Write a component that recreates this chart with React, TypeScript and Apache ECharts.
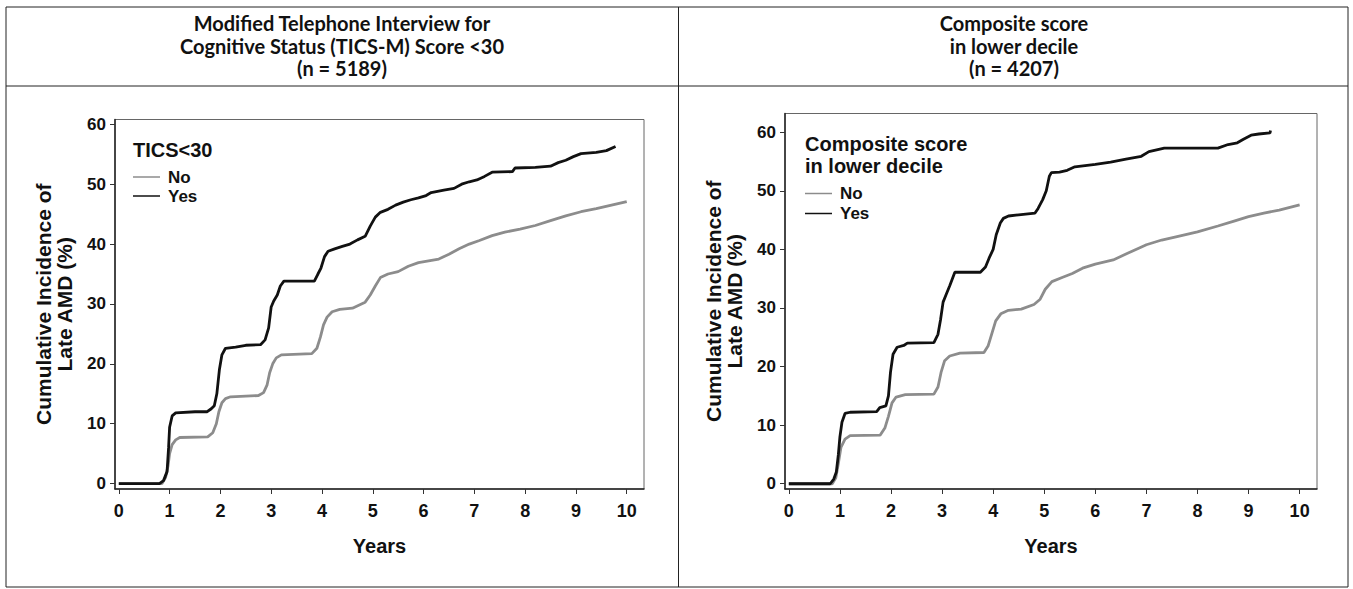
import React, { useEffect, useRef } from "react";
import * as echarts from "echarts";

// ---- data (years, cumulative incidence %) ----
const leftNoData: [number, number][] = [
  [0, 0], [0.85, 0], [0.92, 1], [0.97, 3], [1.0, 5], [1.05, 6.5], [1.12, 7.3], [1.2, 7.7], [1.75, 7.8],
  [1.85, 8.5], [1.92, 10], [1.97, 12], [2.03, 13.5], [2.1, 14.2], [2.2, 14.5], [2.75, 14.7], [2.85, 15.2],
  [2.92, 16.5], [2.97, 18.5], [3.03, 20], [3.1, 21], [3.2, 21.5], [3.8, 21.7], [3.9, 22.6], [3.97, 24.5],
  [4.03, 26.5], [4.1, 27.8], [4.2, 28.7], [4.35, 29.1], [4.6, 29.3], [4.85, 30.3], [4.95, 31.5], [5.05, 33],
  [5.15, 34.4], [5.3, 35], [5.5, 35.4], [5.7, 36.3], [5.9, 36.9], [6.1, 37.2], [6.3, 37.5], [6.5, 38.3],
  [6.7, 39.2], [6.9, 40], [7.1, 40.6], [7.35, 41.4], [7.6, 42], [7.9, 42.5], [8.2, 43.1], [8.5, 43.9],
  [8.8, 44.7], [9.1, 45.4], [9.4, 45.9], [9.7, 46.5], [10, 47.1],
];
const leftYesData: [number, number][] = [
  [0, 0], [0.8, 0], [0.88, 0.5], [0.95, 2], [0.98, 6], [1.0, 9.4], [1.05, 11.3], [1.12, 11.8], [1.5, 12],
  [1.74, 12], [1.82, 12.5], [1.88, 13], [1.93, 15], [1.98, 19], [2.03, 21.5], [2.1, 22.6], [2.3, 22.8],
  [2.5, 23.1], [2.79, 23.2], [2.88, 24], [2.95, 26], [3.0, 29.5], [3.05, 30.5], [3.12, 31.5], [3.18, 33],
  [3.25, 33.8], [3.85, 33.8], [3.92, 35], [3.98, 36], [4.05, 37.9], [4.12, 38.8], [4.25, 39.2], [4.4, 39.6],
  [4.55, 40], [4.7, 40.7], [4.85, 41.3], [4.95, 43], [5.05, 44.5], [5.15, 45.3], [5.3, 45.8], [5.45, 46.5],
  [5.6, 47], [5.75, 47.4], [5.9, 47.7], [6.05, 48.1], [6.15, 48.6], [6.4, 49], [6.6, 49.3], [6.75, 50],
  [6.9, 50.4], [7.05, 50.7], [7.2, 51.3], [7.35, 52], [7.75, 52.1], [7.8, 52.7], [8.2, 52.8], [8.5, 53],
  [8.65, 53.6], [8.8, 54], [8.95, 54.6], [9.1, 55.1], [9.4, 55.3], [9.6, 55.6], [9.78, 56.3],
];
const rightNoData: [number, number][] = [
  [0, 0], [0.85, 0], [0.92, 1], [0.97, 3.5], [1.02, 6.2], [1.1, 7.6], [1.2, 8.2], [1.79, 8.3], [1.88, 9.5],
  [1.95, 11.5], [2.02, 13.8], [2.1, 14.8], [2.28, 15.2], [2.84, 15.3], [2.92, 16.5], [2.98, 19], [3.05, 21],
  [3.15, 21.8], [3.35, 22.3], [3.82, 22.4], [3.9, 23.5], [3.97, 25.5], [4.05, 27.8], [4.15, 29], [4.3, 29.6],
  [4.55, 29.8], [4.8, 30.6], [4.92, 31.5], [5.02, 33.2], [5.15, 34.5], [5.35, 35.2], [5.55, 35.9], [5.75, 36.8],
  [6.0, 37.5], [6.35, 38.2], [6.6, 39.2], [6.85, 40.2], [7.0, 40.8], [7.3, 41.6], [7.6, 42.2], [8.0, 43],
  [8.4, 44], [8.7, 44.8], [9.0, 45.6], [9.3, 46.2], [9.6, 46.7], [10, 47.6],
];
const rightYesData: [number, number][] = [
  [0, 0], [0.81, 0], [0.88, 0.8], [0.93, 2], [0.97, 5], [1.0, 8], [1.04, 10.5], [1.1, 12], [1.2, 12.2],
  [1.72, 12.3], [1.78, 13], [1.9, 13.3], [1.95, 15], [1.99, 19], [2.04, 22.1], [2.12, 23.3], [2.25, 23.6],
  [2.32, 24], [2.84, 24.1], [2.92, 25.5], [2.97, 28], [3.02, 31], [3.08, 32.3], [3.15, 33.8], [3.25, 36.1],
  [3.75, 36.1], [3.85, 37], [3.92, 38.5], [4.0, 40], [4.06, 42.5], [4.14, 44.5], [4.2, 45.3], [4.3, 45.7],
  [4.5, 45.9], [4.82, 46.2], [4.88, 47], [4.97, 48.5], [5.04, 50], [5.1, 52.5], [5.14, 53.1], [5.3, 53.2],
  [5.45, 53.5], [5.6, 54.1], [6.0, 54.5], [6.3, 54.9], [6.6, 55.4], [6.9, 55.9], [7.05, 56.7], [7.35, 57.3],
  [8.4, 57.3], [8.6, 57.9], [8.78, 58.2], [8.9, 58.8], [9.05, 59.5], [9.2, 59.7], [9.42, 59.9], [9.43, 60.3],
];

const xTicks = [0, 1, 2, 3, 4, 5, 6, 7, 8, 9, 10];
const yTicks = [0, 10, 20, 30, 40, 50, 60];

const leftHeader = ["Modified Telephone Interview for", "Cognitive Status (TICS-M) Score <30", "(n = 5189)"];
const rightHeader = ["Composite score", "in lower decile", "(n = 4207)"];
const leftLegendTitle = ["TICS<30"];
const rightLegendTitle = ["Composite score", "in lower decile"];
const legendLabels = ["No", "Yes"];
const yAxisTitle = "Cumulative Incidence of\nLate AMD (%)";
const xAxisTitle = "Years";

const FONT = "'Liberation Sans', Arial, Helvetica, sans-serif";
const HEAD_FONT = "Lato, 'Open Sans', sans-serif";
const GRAY = "#8c8c8c";
const BLACK = "#111111";

function makeX(gridIndex: number) {
  return {
    type: "value",
    gridIndex,
    min: -0.075,
    max: 10.34,
    name: xAxisTitle,
    nameLocation: "middle",
    nameGap: 47,
    nameTextStyle: { fontFamily: FONT, fontSize: 20, fontWeight: "bold", color: BLACK },
    axisLine: { show: true, onZero: false, lineStyle: { color: "#222", width: 1.5 } },
    axisTick: { show: true, length: 5, customValues: xTicks, lineStyle: { color: "#333", width: 1 } },
    axisLabel: {
      customValues: xTicks,
      margin: 13,
      fontFamily: FONT,
      fontSize: 18,
      fontWeight: "bold",
      color: BLACK,
    },
    splitLine: { show: false },
  };
}

function makeY(gridIndex: number, max: number) {
  return {
    type: "value",
    gridIndex,
    min: -0.9,
    max,
    name: yAxisTitle,
    nameLocation: "middle",
    nameGap: 40,
    nameTextStyle: { fontFamily: FONT, fontSize: 21, fontWeight: "bold", color: BLACK, lineHeight: 21 },
    axisLine: { show: true, onZero: false, lineStyle: { color: "#222", width: 1.5 } },
    axisTick: { show: true, length: 5, customValues: yTicks, lineStyle: { color: "#333", width: 1 } },
    axisLabel: {
      customValues: yTicks,
      margin: 9,
      fontFamily: FONT,
      fontSize: 17,
      fontWeight: "bold",
      color: BLACK,
    },
    splitLine: { show: false },
  };
}

function legendGraphics(x: number, titleLines: string[], titleY: number, rowY: number[]) {
  const els: any[] = [];
  titleLines.forEach((t, i) => {
    els.push({
      type: "text",
      x,
      y: titleY + i * 22,
      style: { text: t, fontFamily: FONT, fontSize: 20, fontWeight: "bold", fill: BLACK, textVerticalAlign: "middle" },
    });
  });
  legendLabels.forEach((lab, i) => {
    els.push({
      type: "line",
      shape: { x1: x, y1: rowY[i], x2: x + 27, y2: rowY[i] },
      style: { stroke: i === 0 ? GRAY : BLACK, lineWidth: 1.5 },
    });
    els.push({
      type: "text",
      x: x + 35,
      y: rowY[i],
      style: { text: lab, fontFamily: FONT, fontSize: 17, fontWeight: "bold", fill: BLACK, textVerticalAlign: "middle" },
    });
  });
  return els;
}

function headerGraphics(cx: number, lines: string[]) {
  return lines.map((t, i) => ({
    type: "text",
    x: cx,
    y: 23 + i * 22.5,
    style: {
      text: t,
      fontFamily: HEAD_FONT,
      fontSize: 20,
      fontWeight: "bold",
      fill: BLACK,
      textAlign: "center",
      textVerticalAlign: "middle",
    },
  }));
}

export default function App() {
  const ref = useRef<HTMLDivElement>(null);
  useEffect(() => {
    if (!ref.current) return;
    const chart = echarts.init(ref.current, null, { renderer: "svg" });
    const lineSeries = (data: [number, number][], xi: number, color: string) => ({
      type: "line",
      xAxisIndex: xi,
      yAxisIndex: xi,
      data,
      showSymbol: false,
      symbol: "none",
      lineStyle: { color, width: 2.8 },
      z: color === BLACK ? 3 : 2,
    });
    chart.setOption({
      animation: false,
      backgroundColor: "#ffffff",
      grid: [
        { left: 115, top: 119.5, width: 529, height: 369.5, show: true, borderColor: "#666", borderWidth: 1, backgroundColor: "transparent" },
        { left: 785, top: 113.5, width: 532, height: 375.5, show: true, borderColor: "#666", borderWidth: 1, backgroundColor: "transparent" },
      ],
      xAxis: [makeX(0), makeX(1)],
      yAxis: [makeY(0, 60.8), makeY(1, 63.2)],
      series: [
        lineSeries(leftNoData, 0, GRAY),
        lineSeries(leftYesData, 0, BLACK),
        lineSeries(rightNoData, 1, GRAY),
        lineSeries(rightYesData, 1, BLACK),
      ],
      graphic: [
        {
          type: "rect",
          shape: { x: 6, y: 7, width: 1342, height: 580 },
          style: { fill: "none", stroke: "#222", lineWidth: 1 },
          silent: true,
        },
        { type: "line", shape: { x1: 6, y1: 86, x2: 1348, y2: 86 }, style: { stroke: "#222", lineWidth: 1 } },
        { type: "line", shape: { x1: 678.5, y1: 7, x2: 678.5, y2: 587 }, style: { stroke: "#222", lineWidth: 1 } },
        ...headerGraphics(342, leftHeader),
        ...headerGraphics(1014, rightHeader),
        ...legendGraphics(133, leftLegendTitle, 150, [177, 196]),
        ...legendGraphics(805, rightLegendTitle, 144, [193.5, 213.5]),
      ],
    });
    return () => chart.dispose();
  }, []);
  return (
    <div
      ref={ref}
      style={{ position: "absolute", left: 0, top: 0, width: 1353, height: 589, background: "#fff" }}
    />
  );
}
